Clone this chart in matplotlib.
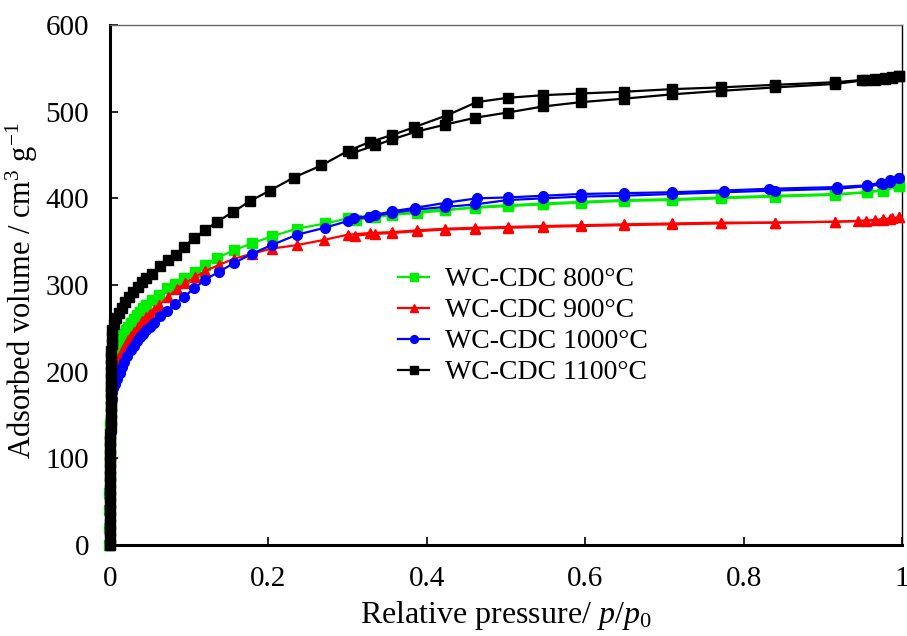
import matplotlib
matplotlib.use("Agg")
import matplotlib.pyplot as plt

plt.rcParams['font.family'] = ['Liberation Serif', 'DejaVu Serif']
plt.rcParams['mathtext.fontset'] = 'custom'
plt.rcParams['mathtext.rm'] = 'Liberation Serif'
plt.rcParams['mathtext.it'] = 'Liberation Serif:italic'

labels = ["WC-CDC 800°C", "WC-CDC 900°C", "WC-CDC 1000°C", "WC-CDC 1100°C"]
colors = ["#00ee00", "#ff0000", "#0000ff", "#000000"]
markers = ["s", "^", "o", "s"]

# 800 °C
x800_ads = [-0.0008, -0.0008, -0.0008, -0.0008, -0.0006, -0.0004, 0.0, 0.0004, 0.0008, 0.0012, 0.0016, 0.0022, 0.003,
            0.004, 0.006, 0.008, 0.011, 0.014,
            0.017, 0.02, 0.023, 0.026, 0.03, 0.034, 0.038, 0.042, 0.046, 0.053, 0.062, 0.072, 0.082, 0.093,
            0.107, 0.12, 0.135, 0.156, 0.179, 0.204, 0.236, 0.272, 0.301, 0.33, 0.356, 0.387, 0.423, 0.461,
            0.502, 0.547, 0.595, 0.649, 0.71, 0.771, 0.84, 0.916, 0.956, 0.976, 0.996]
y800_ads = [0, 20, 40, 60, 80, 100, 120, 140, 160, 180, 195, 205, 212,
            217, 223, 227, 231, 237,
            243, 248, 252, 256, 261, 265, 269, 273, 277, 283, 289, 296, 301, 308,
            315, 323, 331, 340, 348, 356, 365, 371, 377, 379, 382, 385, 387, 389,
            391, 393, 395, 397, 398, 400, 402, 404, 407, 409, 414]
x800_des = [0.996, 0.976, 0.956, 0.916, 0.84, 0.771, 0.71, 0.649, 0.595, 0.547, 0.502, 0.461, 0.423,
            0.387, 0.356, 0.335, 0.31]
y800_des = [414, 410, 407, 405, 403, 401, 399, 398, 396, 394, 392, 390, 386,
            383, 381, 378, 375]

# 900 °C
x900_ads = [0.0, 0.0, 0.0, 0.0, 0.0002, 0.0004, 0.0006, 0.0008, 0.001, 0.0015, 0.002, 0.003, 0.004, 0.005,
            0.007, 0.009, 0.011, 0.014,
            0.017, 0.02, 0.023, 0.026, 0.03, 0.035, 0.04, 0.045, 0.05, 0.055, 0.062, 0.073, 0.084, 0.095,
            0.107, 0.12, 0.137, 0.156, 0.179, 0.204, 0.236, 0.27, 0.3, 0.328, 0.356, 0.387, 0.423, 0.461,
            0.502, 0.547, 0.595, 0.649, 0.71, 0.771, 0.84, 0.916, 0.945, 0.966, 0.976, 0.987, 0.996]
y900_ads = [0, 20, 40, 60, 80, 100, 120, 140, 155, 172, 185, 194, 199, 203,
            207, 210, 214, 220,
            226, 232, 237, 241, 246, 252, 258, 263, 267, 271, 277, 286, 295, 302,
            309, 316, 323, 330, 336, 342, 346, 352, 358, 360, 361, 363, 365, 366,
            367, 368, 369, 370, 371, 372, 372, 373, 374, 375, 376, 377, 378]
x900_des = [0.996, 0.985, 0.976, 0.955, 0.916, 0.84, 0.771, 0.71, 0.649, 0.595, 0.547, 0.502, 0.461,
            0.423, 0.387, 0.356, 0.335, 0.309]
y900_des = [378, 376, 375, 374, 373, 372, 371, 370, 369, 368, 367, 366, 365,
            364, 362, 360, 359, 357]

# 1000 °C
x1000_ads = [0.0, 0.0, 0.0, 0.0, 0.0002, 0.0004, 0.0006, 0.0008, 0.001, 0.0015, 0.002, 0.003, 0.004, 0.006,
             0.009, 0.012, 0.015, 0.018,
             0.022, 0.026, 0.03, 0.034, 0.038, 0.042, 0.046, 0.05, 0.055, 0.063, 0.072, 0.082, 0.093, 0.106,
             0.12, 0.137, 0.156, 0.179, 0.204, 0.236, 0.271, 0.301, 0.327, 0.356, 0.385, 0.423, 0.461, 0.502,
             0.547, 0.595, 0.649, 0.71, 0.775, 0.84, 0.918, 0.956, 0.976, 0.985, 0.996]
y1000_ads = [0, 20, 40, 60, 80, 100, 115, 130, 142, 158, 168, 176, 181, 186,
             191, 198, 205, 211,
             218, 225, 230, 235, 240, 244, 248, 252, 256, 264, 270, 278, 286, 296,
             306, 315, 325, 336, 346, 358, 366, 374, 379, 383, 387, 390, 393, 398,
             400, 402, 403, 405, 407, 409, 411, 414, 416, 419, 424]
x1000_des = [0.996, 0.985, 0.973, 0.956, 0.918, 0.832, 0.775, 0.71, 0.649, 0.595, 0.547, 0.502, 0.463,
             0.425, 0.385, 0.356, 0.335, 0.308]
y1000_des = [424, 421, 418, 415, 413, 411, 409, 407, 406, 405, 403, 401, 400,
             395, 389, 385, 381, 377]

# 1100 °C
x1100_ads = [0.0005, 0.0005, 0.0005, 0.0005, 0.0005, 0.0005, 0.0005, 0.0005, 0.0005, 0.0005, 0.0005, 0.0005,
             0.0005, 0.0005, 0.0006, 0.0006, 0.0006, 0.0007, 0.0007, 0.0008, 0.0008, 0.0009, 0.001, 0.001,
             0.0011, 0.0012, 0.0013, 0.0015, 0.0018, 0.0022, 0.0026, 0.003, 0.005, 0.008, 0.011, 0.015, 0.019,
             0.024, 0.029, 0.035, 0.04, 0.046, 0.053, 0.063, 0.073, 0.083, 0.093, 0.106,
             0.12, 0.135, 0.155, 0.177, 0.202, 0.232, 0.267, 0.301, 0.328, 0.356, 0.384, 0.426, 0.463, 0.502,
             0.547, 0.595, 0.649, 0.71, 0.771, 0.84, 0.916, 0.955, 0.966, 0.979, 0.987, 0.996]
y1100_ads = [0, 8, 16, 24, 32, 40, 48, 56, 64, 72, 80, 88,
             96, 104, 112, 120, 128, 136, 144, 152, 160, 168, 176, 184,
             192, 200, 208, 216, 224, 232, 240, 248, 255, 262, 268, 274, 280,
             286, 292, 298, 303, 308, 313, 322, 329, 335, 344, 354,
             363, 373, 384, 397, 409, 424, 438, 455, 465, 473, 482, 496, 511, 516,
             519, 521, 523, 526, 528, 531, 534, 537, 538, 539, 540, 541]
x1100_des = [0.996, 0.987, 0.979, 0.966, 0.95, 0.916, 0.84, 0.771, 0.71, 0.649, 0.595, 0.547, 0.502,
             0.461, 0.423, 0.387, 0.356, 0.335, 0.305]
y1100_des = [541, 539, 538, 537, 536, 532, 528, 524, 520, 515, 511, 506, 499,
             493, 485, 477, 468, 461, 452]

series = [
    (x800_ads, y800_ads, x800_des, y800_des),
    (x900_ads, y900_ads, x900_des, y900_des),
    (x1000_ads, y1000_ads, x1000_des, y1000_des),
    (x1100_ads, y1100_ads, x1100_des, y1100_des),
]

fig = plt.figure(figsize=(9.07, 6.36), dpi=100)
ax = fig.add_axes([0.1213, 0.1431, 0.8732, 0.8176])

for (xa, ya, xd, yd), c, m, lab in zip(series, colors, markers, labels):
    ax.plot(xa, ya, color=c, marker=m, markersize=7, linewidth=1.6, label=lab, zorder=3, clip_on=False)
    ax.plot(xd, yd, color=c, marker=m, markersize=7, linewidth=1.6, zorder=3, clip_on=False)

ax.set_xlim(0, 1)
ax.set_ylim(0, 600)
ax.set_xticks([0, 0.2, 0.4, 0.6, 0.8, 1.0])
ax.set_xticklabels(["0", "0.2", "0.4", "0.6", "0.8", "1"])
ax.set_yticks([0, 100, 200, 300, 400, 500, 600])
ax.tick_params(direction='in', length=6, width=1.2, labelsize=21)
ax.tick_params(axis='y', pad=15)
ax.tick_params(axis='x', pad=15)

ax.spines['left'].set_linewidth(2.2)
ax.spines['bottom'].set_linewidth(2.2)
ax.spines['top'].set_linewidth(1.0)
ax.spines['top'].set_color('#666666')
ax.spines['right'].set_linewidth(1.0)

ax.set_xlabel(r"Relative pressure/ $p$/$p_0$", fontsize=23, labelpad=5)
ax.set_ylabel(r"Adsorbed volume / cm$^3$ g$^{-1}$", fontsize=22)
ax.yaxis.set_label_coords(-0.088, 0.49)

leg = ax.legend(loc='upper left', bbox_to_anchor=(0.349, 0.556), frameon=False, fontsize=20,
                handlelength=1.15, handletextpad=0.55, labelspacing=0.2, markerscale=0.8,
                borderaxespad=0)

fig.savefig("out.png", dpi=100)
